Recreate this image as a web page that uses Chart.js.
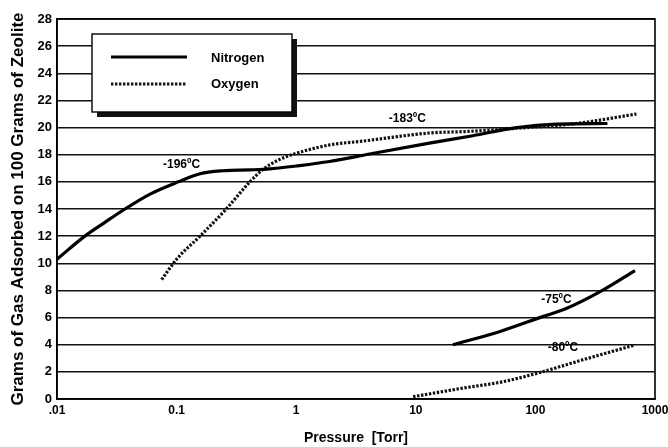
<!DOCTYPE html>
<html>
<head>
<meta charset="utf-8">
<script src="https://cdn.jsdelivr.net/npm/chart.js@4/dist/chart.umd.min.js"></script>
<style>
  html, body { margin: 0; padding: 0; background: #fff; }
  #wrap { width: 668px; height: 447px; position: relative; }
</style>
</head>
<body>
<div id="wrap"><canvas id="c" width="668" height="447"></canvas></div>
<script>
// ---- Data ----
const xTickValues = [0.01, 0.1, 1, 10, 100, 1000];
const xTickLabels = ['.01', '0.1', '1', '10', '100', '1000'];
const yTickValues = [0, 2, 4, 6, 8, 10, 12, 14, 16, 18, 20, 22, 24, 26, 28];

// Nitrogen at -196 °C
const n196Pressure = [0.01, 0.0171, 0.025, 0.037, 0.06, 0.103, 0.157, 0.246, 0.41, 0.6, 1.0, 1.9, 4.1, 13, 30, 70, 150, 400];
const n196Grams    = [10.3, 12.0, 13.0, 14.0, 15.1, 16.0, 16.6, 16.82, 16.88, 16.95, 17.17, 17.5, 18.05, 18.85, 19.4, 20.0, 20.25, 20.3];

// Oxygen at -183 °C
const o183Pressure = [0.075, 0.1, 0.157, 0.26, 0.41, 0.53, 0.73, 1.0, 1.9, 3.6, 13, 28, 70, 220, 700];
const o183Grams    = [8.8, 10.3, 12.0, 14.0, 16.0, 16.93, 17.66, 18.1, 18.72, 19.0, 19.6, 19.72, 19.95, 20.3, 21.0];

// Nitrogen at -75 °C
const n75Pressure = [20.4, 50, 115, 183, 360, 680];
const n75Grams    = [4.0, 4.96, 6.07, 6.68, 7.98, 9.46];

// Oxygen at -80 °C
const o80Pressure = [9.5, 24.7, 54, 115, 245, 680];
const o80Grams    = [0.17, 0.8, 1.28, 2.01, 2.87, 3.98];

const legendNames = ['Nitrogen', 'Oxygen'];
const curveLabels = ['-196ºC', '-183ºC', '-75ºC', '-80ºC'];
const curveLabelAt = [[0.11, 17.3], [8.5, 20.65], [150, 7.3], [170, 3.75]];

// ---- Styles ----
const FONT = '"Liberation Sans", Arial, Helvetica, sans-serif';
const solid = { borderColor: '#000', borderWidth: 3.2, borderDash: [] };
const dotted = { borderColor: '#111', borderWidth: 3.2, borderDash: [2.4, 1.6] };

function pts(xs, ys) { return xs.map((x, i) => ({ x: x, y: ys[i] })); }

const common = { pointRadius: 0, fill: false, cubicInterpolationMode: 'monotone', borderCapStyle: 'butt' };

const datasets = [
  Object.assign({ label: legendNames[0], data: pts(n196Pressure, n196Grams) }, common, solid),
  Object.assign({ label: legendNames[1], data: pts(o183Pressure, o183Grams) }, common, dotted),
  Object.assign({ label: legendNames[0] + ' -75', data: pts(n75Pressure, n75Grams) }, common, solid),
  Object.assign({ label: legendNames[1] + ' -80', data: pts(o80Pressure, o80Grams) }, common, dotted)
];

const framePlugin = {
  id: 'frame',
  afterDatasetsDraw(chart) {
    const { ctx, chartArea: a, scales } = chart;
    ctx.save();
    // plot border
    ctx.strokeStyle = '#000';
    ctx.lineWidth = 1.6;
    ctx.strokeRect(a.left, a.top, a.right - a.left, a.bottom - a.top);

    // curve labels
    ctx.fillStyle = '#000';
    ctx.font = 'bold 12px ' + FONT;
    ctx.textAlign = 'center';
    ctx.textBaseline = 'middle';
    curveLabels.forEach((t, i) => {
      const px = scales.x.getPixelForValue(curveLabelAt[i][0]);
      const py = scales.y.getPixelForValue(curveLabelAt[i][1]);
      ctx.fillText(t, px, py);
    });

    // legend box with shadow
    const bx = 92, by = 34, bw = 200, bh = 78;
    ctx.fillStyle = '#111';
    ctx.fillRect(bx + 5, by + 5, bw, bh);
    ctx.fillStyle = '#fff';
    ctx.fillRect(bx, by, bw, bh);
    ctx.strokeStyle = '#000';
    ctx.lineWidth = 1.4;
    ctx.strokeRect(bx, by, bw, bh);

    const rows = [57, 84];
    [solid, dotted].forEach((st, i) => {
      ctx.beginPath();
      ctx.setLineDash(st.borderDash);
      ctx.lineWidth = st.borderWidth;
      ctx.strokeStyle = st.borderColor;
      ctx.moveTo(111, rows[i]);
      ctx.lineTo(187, rows[i]);
      ctx.stroke();
    });
    ctx.setLineDash([]);
    ctx.fillStyle = '#000';
    ctx.font = 'bold 13px ' + FONT;
    ctx.textAlign = 'left';
    ctx.fillText(legendNames[0], 211, rows[0] + 1);
    ctx.fillText(legendNames[1], 211, rows[1]);
    ctx.restore();
  }
};

new Chart(document.getElementById('c'), {
  type: 'line',
  data: { datasets: datasets },
  plugins: [framePlugin],
  options: {
    responsive: false,
    animation: false,
    devicePixelRatio: 1,
    layout: { padding: { top: 19, right: 13, left: 0, bottom: 0 } },
    plugins: { legend: { display: false }, tooltip: { enabled: false } },
    scales: {
      x: {
        type: 'logarithmic',
        min: 0.01,
        max: 1000,
        afterBuildTicks(scale) { scale.ticks = xTickValues.map(v => ({ value: v })); },
        afterFit(scale) { scale.height = 48; scale.paddingLeft = 0; scale.paddingRight = 0; },
        ticks: {
          autoSkip: false,
          maxRotation: 0,
          padding: 4,
          color: '#000',
          font: { family: FONT, size: 12, weight: 'bold' },
          callback(v) { const i = xTickValues.indexOf(v); return i >= 0 ? xTickLabels[i] : ''; }
        },
        grid: { display: false, drawTicks: false },
        border: { display: true, color: '#000', width: 1.6 },
        title: {
          display: true,
          text: 'Pressure  [Torr]',
          color: '#000',
          font: { family: FONT, size: 14, weight: 'bold' },
          padding: { top: 9, bottom: 0 }
        }
      },
      y: {
        type: 'linear',
        min: 0,
        max: 28,
        afterBuildTicks(scale) { scale.ticks = yTickValues.map(v => ({ value: v })); },
        afterFit(scale) { scale.width = 57; },
        ticks: {
          padding: 5,
          color: '#000',
          font: { family: FONT, size: 13, weight: 'bold' }
        },
        grid: { color: '#111', lineWidth: 1.5, drawTicks: false },
        border: { display: true, color: '#000', width: 1.6 },
        title: {
          display: true,
          text: 'Grams of Gas Adsorbed on 100 Grams of Zeolite',
          color: '#000',
          font: { family: FONT, size: 17, weight: 'bold' },
          padding: { top: 8, bottom: 0 }
        }
      }
    }
  }
});
</script>
</body>
</html>
